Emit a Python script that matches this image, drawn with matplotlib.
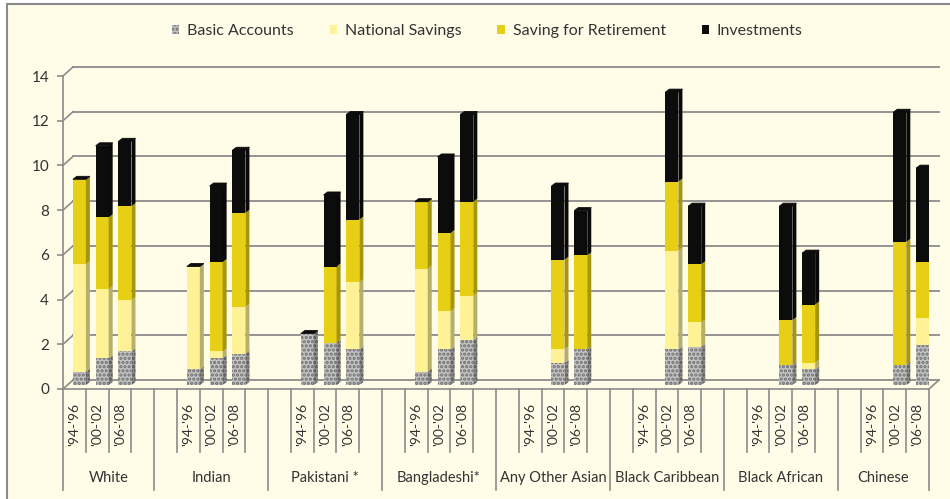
import matplotlib.pyplot as plt
from matplotlib.patches import Polygon, Rectangle, Patch
import matplotlib.colors as mcolors
import numpy as np

plt.rcParams['font.family'] = ['Lato', 'DejaVu Sans']
plt.rcParams['hatch.linewidth'] = 1.6

groups = ["White", "Indian", "Pakistani *", "Bangladeshi*", "Any Other Asian",
          "Black Caribbean", "Black African", "Chinese"]
periods = ["'94-'96", "'00-'02", "'06-'08"]
series = ["Basic Accounts", "National Savings", "Saving for Retirement", "Investments"]

nan = np.nan
# rows = groups, columns = periods (nan = no data for that survey)
basic = np.array([[0.6, 1.2, 1.5], [0.7, 1.2, 1.4], [2.3, 1.9, 1.6], [0.6, 1.6, 2.0],
                  [nan, 1.0, 1.6], [nan, 1.6, 1.7], [nan, 0.9, 0.7], [nan, 0.9, 1.8]])
national = np.array([[4.8, 3.1, 2.3], [4.6, 0.3, 2.1], [0.0, 0.0, 3.0], [4.6, 1.7, 2.0],
                     [nan, 0.6, 0.0], [nan, 4.4, 1.1], [nan, 0.0, 0.3], [nan, 0.0, 1.2]])
retirement = np.array([[3.8, 3.2, 4.2], [0.0, 4.0, 4.2], [0.0, 3.4, 2.8], [3.0, 3.5, 4.2],
                       [nan, 4.0, 4.2], [nan, 3.1, 2.6], [nan, 2.0, 2.6], [nan, 5.5, 2.5]])
investments = np.array([[0.0, 3.2, 2.9], [0.0, 3.4, 2.8], [0.0, 3.2, 4.7], [0.0, 3.4, 3.9],
                        [nan, 3.3, 2.0], [nan, 4.0, 2.6], [nan, 5.1, 2.3], [nan, 5.8, 4.2]])

colors = ["#c4c4c4", "#fff196", "#e6cf14", "#0c0c0c"]
bg = "#fffce8"
grid_c = "#8c8c8c"

W, H, DPI = 950, 499, 100
fig = plt.figure(figsize=(W / DPI, H / DPI), dpi=DPI)
fig.patch.set_facecolor("white")
fig.add_artist(Rectangle((7 / W, -0.05), 1.1, 1.05 - 4 / H, transform=fig.transFigure,
                         facecolor=bg, edgecolor="#8a8a8a", lw=1.5, zorder=-5))

# front plane of the plot box in pixels
x0, x1, ytop, ybot = 63, 929, 76, 389
ax = fig.add_axes([x0 / W, 1 - ybot / H, (x1 - x0) / W, (ybot - ytop) / H])
ax.patch.set_visible(False)

nslots = 38
ax.set_xlim(0, nslots)
ax.set_ylim(0, 14)
px_x = (x1 - x0) / nslots
px_y = (ybot - ytop) / 14

# depth of the wall and of the bars, converted to data units
DX, DY = 10 / px_x, 9 / px_y
BX, BY = 5 / px_x, 4 / px_y
SX, SY = 4 / px_x, 3 / px_y
bw = 0.57

for s in ["top", "right", "bottom"]:
    ax.spines[s].set_visible(False)
ax.spines["left"].set_color(grid_c)
ax.spines["left"].set_linewidth(1.2)
ax.set_xticks([])
ax.set_yticks(range(0, 15, 2))
ax.tick_params(axis="y", length=4, color=grid_c, width=1.2, labelsize=11,
               labelcolor="#333333", pad=6)

# back wall grid and floor
for v in range(0, 15, 2):
    ax.plot([0, DX], [v, v + DY], color=grid_c, lw=1.2, clip_on=False, zorder=1)
    ax.plot([DX, nslots + DX], [v + DY, v + DY], color=grid_c, lw=1.3,
            clip_on=False, zorder=1)
ax.plot([0, nslots], [0, 0], color=grid_c, lw=1.2, clip_on=False, zorder=1)
ax.plot([nslots, nslots + DX], [0, DY], color=grid_c, lw=1.2, clip_on=False, zorder=1)


def shade(c, f=0.72):
    r, g, b = mcolors.to_rgb(c)
    return (r * f, g * f, b * f)


def group_start(g):
    return 0 if g == 0 else 4 + 5 * (g - 1)


def bar_slots(g):
    s = group_start(g)
    return [s, s + 1, s + 2] if g == 0 else [s + 1, s + 2, s + 3]


stack = [basic, national, retirement, investments]
for g in range(len(groups)):
    for p, slot in enumerate(bar_slots(g)):
        if np.isnan(basic[g, p]):
            continue
        xl = slot + 0.5 - bw / 2 + BX
        xr = xl + bw
        bottom = BY
        for k, arr in enumerate(stack):
            h = arr[g, p]
            if h > 0:
                kw = dict(hatch="....", edgecolor="#6e6e6e", lw=0) if k == 0 else dict(lw=0)
                ax.bar(xl, h, width=bw, bottom=bottom, align="edge", color=colors[k],
                       zorder=3, **kw)
                side = Polygon([(xr, bottom), (xr + SX, bottom + SY),
                                (xr + SX, bottom + h + SY), (xr, bottom + h)],
                               closed=True, facecolor=shade(colors[k]), lw=0, zorder=3,
                               hatch="...." if k == 0 else None,
                               edgecolor="#555555" if k == 0 else None)
                ax.add_patch(side)
                bottom += h
        top = Polygon([(xl, bottom), (xl + SX, bottom + SY), (xr + SX, bottom + SY),
                       (xr, bottom)], closed=True, facecolor=colors[3], lw=0.6,
                      edgecolor=colors[3], zorder=4)
        ax.add_patch(top)

# category axis below the floor
slot_tick = -63 / px_y
sep_tick = -101 / px_y
seps = [group_start(g) for g in range(len(groups))] + [nslots]
for i in range(nslots + 1):
    ax.plot([i, i], [0, sep_tick if i in seps else slot_tick], color=grid_c,
            lw=1.2, clip_on=False, zorder=1)

for g, name in enumerate(groups):
    for p, slot in enumerate(bar_slots(g)):
        ax.text(slot + 0.5, -35 / px_y, periods[p], rotation=90, ha="center",
                va="center", fontsize=10, color="#333333")
    end = group_start(g + 1) if g < len(groups) - 1 else nslots
    ax.text((group_start(g) + end) / 2, -89 / px_y, name, ha="center", va="center",
            fontsize=10.5, color="#333333")

handles = [Patch(facecolor=colors[0], hatch="....", edgecolor="#6e6e6e", lw=0)] + \
          [Patch(facecolor=c, lw=0) for c in colors[1:]]
fig.legend(handles, series, loc="center", bbox_to_anchor=(0.513, 1 - 31 / H), ncol=4,
           frameon=False, fontsize=11.5, handlelength=0.45, handleheight=0.45,
           handletextpad=0.5, columnspacing=2.25, labelcolor="#333333")

fig.savefig("out.png", dpi=DPI, facecolor=fig.get_facecolor())
